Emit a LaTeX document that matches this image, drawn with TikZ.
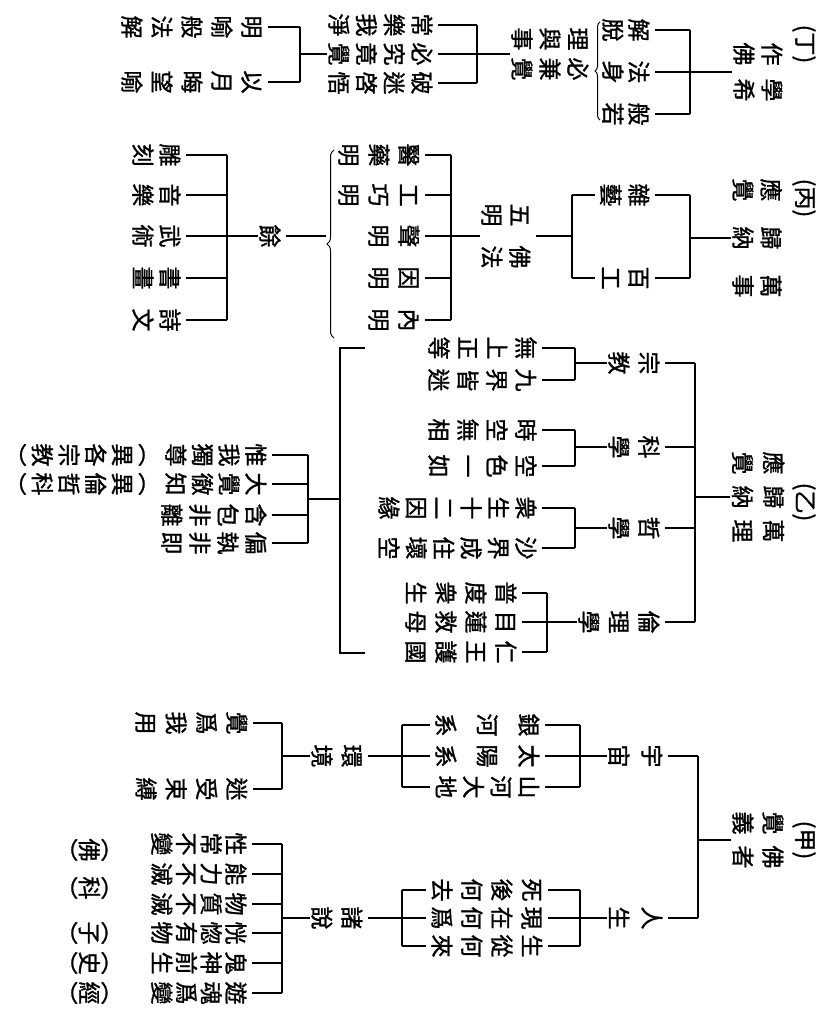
\documentclass[tikz,border=0pt]{standalone}
\usepackage{fontspec}
\setmainfont{Noto Sans CJK TC}[FakeBold=1.2]
\usetikzlibrary{decorations.pathreplacing}

% one vertical column of characters, #1 = pitch
\newdimen\vcgap
\newcommand\vchar[1]{\hbox to1em{\hss\vrule height.88em depth.12em width0pt#1\hss}}
\def\vcfirst#1{\vchar{#1}\vcnext}
\def\vcnext#1{\ifx#1\relax\else\vskip\vcgap\relax\vchar{#1}\expandafter\vcnext\fi}
\newcommand\vc[2][27pt]{\vbox{\offinterlineskip\vcgap=\dimexpr#1-1em\relax\vcfirst#2\relax}}

\begin{document}
\begin{tikzpicture}[x=1pt, y=-1pt, line width=1.2pt,
    txt/.style={rotate=-90, inner sep=0pt, anchor=north, font=\fontsize{23}{27}\selectfont},
    lab/.style={rotate=-90, inner sep=0pt, font=\fontsize{23}{27}\selectfont},
    tick/.style={shorten >=4pt}, stub/.style={shorten <=4pt}]
    \path[use as bounding box, fill=white] (0,0) rectangle (823,1016);

    % (甲)
    \node[lab] (jiahd) at (804,840) {(甲)};
    \node[lab] (jia) at (758,840) {\hbox{\vc[30pt]{覺義}\hspace{11pt}\vc[30pt]{佛者}}};
    \coordinate (fa) at (698,0);
    \node[txt] (yuzhou) at (664,756) {\vc[33pt]{宇宙}};
    \node[txt] (rensheng) at (664,918) {\vc[33pt]{人生}};
    \draw (jia.south) -- (jia.south -| fa);
    \draw (yuzhou.north -| fa) -- (rensheng.north -| fa);
    \foreach \n in {yuzhou,rensheng} \draw[tick] (\n.north -| fa) -- (\n.north);

    \coordinate (fb) at (580,0);
    \node[txt] (yinhe) at (541,725) {\vc[41.5pt]{銀河系}};
    \node[txt] (taiyang) at (541,756) {\vc[41.5pt]{太陽系}};
    \node[txt] (shanhe) at (541,787) {\vc[27.7pt]{山河大地}};
    \draw (yuzhou.south) -- (yuzhou.south -| fb);
    \draw (yinhe.north -| fb) -- (shanhe.north -| fb);
    \foreach \n in {yinhe,taiyang,shanhe} \draw[tick] (\n.north -| fb) -- (\n.north);

    \coordinate (mb) at (402,0);
    \node[txt] (huanjing) at (364,756) {\vc[30pt]{環境}};
    \draw (yinhe.south -| mb) -- (shanhe.south -| mb);
    \foreach \n in {yinhe,taiyang,shanhe} \draw[stub] (\n.south) -- (\n.south -| mb);
    \draw[tick] (huanjing.north -| mb) -- (huanjing.north);

    \coordinate (fc) at (282,0);
    \node[txt] (jueyong) at (249,723) {\vc[30.3pt]{覺爲我用}};
    \node[txt] (mishou) at (249,789) {\vc[30.3pt]{迷受束縛}};
    \draw (huanjing.south) -- (huanjing.south -| fc);
    \draw (jueyong.north -| fc) -- (mishou.north -| fc);
    \foreach \n in {jueyong,mishou} \draw[tick] (\n.north -| fc) -- (\n.north);

    \node[txt] (sihou) at (544,890) {\vc[30pt]{死後何去}};
    \node[txt] (xianzai) at (544,918) {\vc[30pt]{現在何爲}};
    \node[txt] (shengcong) at (544,946) {\vc[30pt]{生從何來}};
    \draw (rensheng.south) -- (rensheng.south -| fb);
    \draw (sihou.north -| fb) -- (shengcong.north -| fb);
    \foreach \n in {sihou,xianzai,shengcong} \draw[tick] (\n.north -| fb) -- (\n.north);

    \node[txt] (zhushuo) at (364,918) {\vc[30pt]{諸說}};
    \draw (sihou.south -| mb) -- (shengcong.south -| mb);
    \foreach \n in {sihou,xianzai,shengcong} \draw[stub] (\n.south) -- (\n.south -| mb);
    \draw[tick] (zhushuo.north -| mb) -- (zhushuo.north);

    \node[txt] (xing) at (248,844) {\vc[24.7pt]{性常不變}};
    \node[txt] (nengli) at (248,874) {\vc[24.7pt]{能力不滅}};
    \node[txt] (wuzhi) at (248,904) {\vc[24.7pt]{物質不滅}};
    \node[txt] (huanghu) at (248,933) {\vc[24.7pt]{恍惚有物}};
    \node[txt] (guishen) at (248,963) {\vc[24.7pt]{鬼神前生}};
    \node[txt] (youhun) at (248,993) {\vc[24.7pt]{遊魂爲變}};
    \draw (zhushuo.south) -- (zhushuo.south -| fc);
    \draw (xing.north -| fc) -- (youhun.north -| fc);
    \foreach \n in {xing,nengli,wuzhi,huanghu,guishen,youhun} \draw[tick] (\n.north -| fc) -- (\n.north);

    \node[txt] (fo) at (124,850) {\vc[22.5pt]{︵佛︶}};
    \node[txt] (ke) at (124,888) {\vc[22.5pt]{︵科︶}};
    \node[txt] (zi) at (124,933) {\vc[22.5pt]{︵子︶}};
    \node[txt] (shi) at (124,963) {\vc[22.5pt]{︵史︶}};
    \node[txt] (jing) at (124,993) {\vc[22.5pt]{︵經︶}};

    % (乙)
    \node[lab] (yihd) at (804,502) {(乙)};
    \node[lab] (yi) at (758,497) {\hbox{\vc[31pt]{應覺}\hspace{11pt}\vc[31pt]{歸納}\hspace{11pt}\vc[31pt]{萬理}}};
    \coordinate (ga) at (695,0);
    \node[txt] (zongjiao) at (661,363) {\vc[30pt]{宗教}};
    \node[txt] (kexue) at (661,447) {\vc[30pt]{科學}};
    \node[txt] (zhexue) at (661,528) {\vc[30pt]{哲學}};
    \node[txt] (lunli) at (661,622) {\vc[30pt]{倫理學}};
    \draw (yi.south) -- (yi.south -| ga);
    \draw (zongjiao.north -| ga) -- (lunli.north -| ga);
    \foreach \n in {zongjiao,kexue,zhexue,lunli} \draw[tick] (\n.north -| ga) -- (\n.north);

    \coordinate (gb) at (575,0);
    \node[txt] (wushang) at (538,348) {\vc[29pt]{無上正等}};
    \node[txt] (jiujie) at (538,380) {\vc[29pt]{九界皆迷}};
    \node[txt] (shikong) at (538,430) {\vc[29pt]{時空無相}};
    \node[txt] (kongse) at (538,466) {\vc[29pt]{空色一如}};
    \node[txt] (zhongsheng) at (538,508) {\vc[27.4pt]{衆生十二因緣}};
    \node[txt] (shajie) at (538,548) {\vc[27.4pt]{沙界成住壞空}};
    \foreach \p/\a/\b in {zongjiao/wushang/jiujie,kexue/shikong/kongse,zhexue/zhongsheng/shajie}{
      \draw (\p.south) -- (\p.south -| gb);
      \draw (\a.north -| gb) -- (\b.north -| gb);
      \draw[tick] (\a.north -| gb) -- (\a.north);
      \draw[tick] (\b.north -| gb) -- (\b.north);
    }

    \coordinate (gc) at (547,0);
    \node[txt] (pudu) at (518,593) {\vc[30pt]{普度衆生}};
    \node[txt] (mulian) at (518,622) {\vc[30pt]{目蓮救母}};
    \node[txt] (renwang) at (518,652) {\vc[30pt]{仁王護國}};
    \draw (lunli.south) -- (lunli.south -| gc);
    \draw (pudu.north -| gc) -- (renwang.north -| gc);
    \foreach \n in {pudu,mulian,renwang} \draw[tick] (\n.north -| gc) -- (\n.north);

    \coordinate (qt) at (365,348);
    \coordinate (qb) at (365,653);
    \coordinate (qm) at (340,499);
    \coordinate (gk) at (308,0);
    \draw (qt) -- (qt -| qm) -- (qb -| qm) -- (qb);
    \node[txt] (weiwo) at (268,455) {\vc[26.7pt]{惟我獨尊︵異各宗教︶}};
    \node[txt] (dajue) at (268,484) {\vc[26.7pt]{大覺徹知︵異倫哲科︶}};
    \node[txt] (hanbao) at (268,515) {\vc[28pt]{含包非離}};
    \node[txt] (pianzhi) at (268,543) {\vc[28pt]{偏執非即}};
    \draw (qm) -- (qm -| gk);
    \draw (weiwo.north -| gk) -- (pianzhi.north -| gk);
    \foreach \n in {weiwo,dajue,hanbao,pianzhi} \draw[tick] (\n.north -| gk) -- (\n.north);

    % (丙)
    \node[lab] (binghd) at (804,198) {(丙)};
    \node[lab] (bing) at (757,238) {\hbox{\vc[28pt]{應覺}\hspace{25pt}\vc[28pt]{歸納}\hspace{25pt}\vc[28pt]{萬事}}};
    \coordinate (ha) at (690,0);
    \node[txt] (zayi) at (651,195) {\vc[28pt]{雜藝}};
    \node[txt] (baigong) at (651,278) {\vc[28pt]{百工}};
    \draw (bing.south) -- (bing.south -| ha);
    \draw (zayi.north -| ha) -- (baigong.north -| ha);
    \foreach \n in {zayi,baigong} \draw[tick] (\n.north -| ha) -- (\n.north);

    \coordinate (hb) at (572,0);
    \node[txt] (wufo) at (532,236) {\hbox{\vc[28pt]{五明}\hspace{19pt}\vc[28pt]{佛法}}};
    \draw (zayi.south -| hb) -- (baigong.south -| hb);
    \foreach \n in {zayi,baigong} \draw[stub] (\n.south) -- (\n.south -| hb);
    \draw[tick] (wufo.north -| hb) -- (wufo.north);

    \coordinate (hc) at (451,0);
    \node[txt] (yiyao) at (421,155) {\vc[30pt]{醫藥明}};
    \node[txt] (gongqiao) at (421,195) {\vc[30pt]{工巧明}};
    \node[txt] (shengming) at (421,236) {\vc[30pt]{聲明}};
    \node[txt] (yinming) at (421,278) {\vc[30pt]{因明}};
    \node[txt] (neiming) at (421,320) {\vc[30pt]{內明}};
    \draw (wufo.south) -- (wufo.south -| hc);
    \draw (yiyao.north -| hc) -- (neiming.north -| hc);
    \foreach \n in {yiyao,gongqiao,shengming,yinming,neiming} \draw[tick] (\n.north -| hc) -- (\n.north);

    \draw[line width=1pt, decorate, decoration={brace, amplitude=7pt}] (334,338) -- (334,150);
    \coordinate (bt) at (326,236);
    \node[txt] (yu) at (282,236) {\vc{餘}};
    \draw[tick] (bt) -- (yu.north);

    \coordinate (hd) at (227,0);
    \node[txt] (diaoke) at (182,155) {\vc[27pt]{雕刻}};
    \node[txt] (yinyue) at (182,195) {\vc[27pt]{音樂}};
    \node[txt] (wushu) at (182,236) {\vc[27pt]{武術}};
    \node[txt] (shuhua) at (182,278) {\vc[27pt]{書畫}};
    \node[txt] (shiwen) at (182,320) {\vc[27pt]{詩文}};
    \draw (yu.south) -- (yu.south -| hd);
    \draw (diaoke.north -| hd) -- (shiwen.north -| hd);
    \foreach \n in {diaoke,yinyue,wushu,shuhua,shiwen} \draw[tick] (\n.north -| hd) -- (\n.north);

    % (丁)
    \node[lab] (dinghd) at (804,44) {(丁)};
    \node[lab] (ding) at (758,72) {\hbox{\vc[28pt]{作佛}\hspace{13pt}\vc[28pt]{學希}}};
    \coordinate (ia) at (690,0);
    \node[txt] (jietuo) at (651,30) {\vc[26pt]{解脫}};
    \node[txt] (fashen) at (651,72) {\vc[26pt]{法身}};
    \node[txt] (bore) at (651,114) {\vc[26pt]{般若}};
    \draw (ding.south) -- (ding.south -| ia);
    \draw (jietuo.north -| ia) -- (bore.north -| ia);
    \foreach \n in {jietuo,fashen,bore} \draw[tick] (\n.north -| ia) -- (\n.north);

    \draw[line width=1pt, decorate, decoration={brace, amplitude=5pt}] (600,120) -- (600,22);
    \node[lab] (lizhi) at (550,54) {\hbox{\vc[28pt]{理與事}\hspace{7pt}\vc[28pt]{必兼覺}}};

    \coordinate (ib) at (477,0);
    \node[txt] (changle) at (434,25) {\vc[27.7pt]{常樂我淨}};
    \node[txt] (bijiu) at (434,54) {\vc[27.7pt]{必究竟覺}};
    \node[txt] (pomi) at (434,83) {\vc[27.7pt]{破迷啓悟}};
    \draw (lizhi.south) -- (lizhi.south -| ib);
    \draw (changle.north -| ib) -- (pomi.north -| ib);
    \foreach \n in {changle,bijiu,pomi} \draw[tick] (\n.north -| ib) -- (\n.north);

    \coordinate (ic) at (300,0);
    \node[txt] (mingyu) at (264,27) {\vc[30pt]{明喻般法解}};
    \node[txt] (yiyue) at (264,82) {\vc[30pt]{以月晦望喻}};
    \draw (bijiu.south) -- (bijiu.south -| ic);
    \draw (mingyu.north -| ic) -- (yiyue.north -| ic);
    \foreach \n in {mingyu,yiyue} \draw[tick] (\n.north -| ic) -- (\n.north);
\end{tikzpicture}
\end{document}
